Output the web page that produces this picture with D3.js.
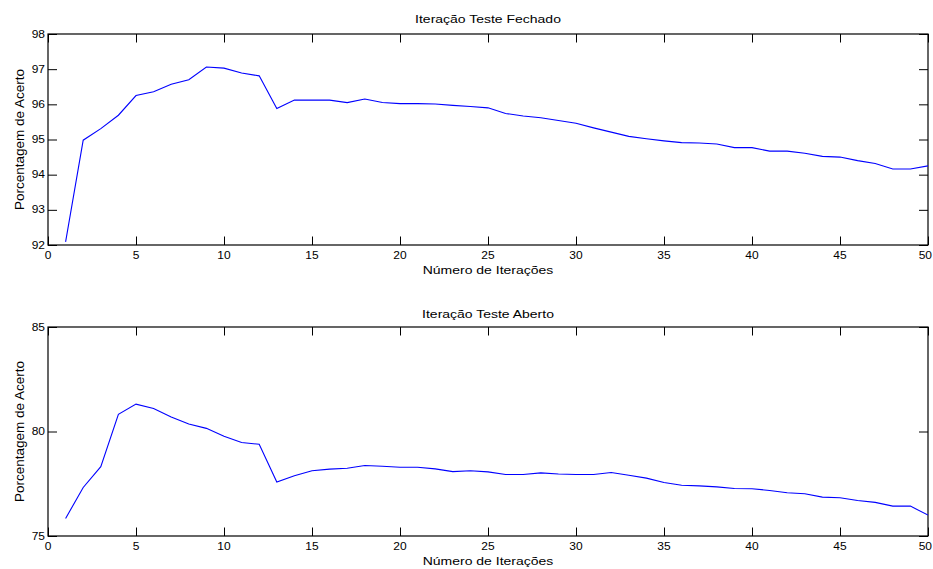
<!DOCTYPE html>
<html>
<head>
<meta charset="utf-8">
<script src="https://cdn.jsdelivr.net/npm/d3@7"></script>
<style>
  html, body { margin: 0; padding: 0; background: #fff; }
  svg { display: block; font-family: "Liberation Sans", Arial, Helvetica, sans-serif; }
</style>
</head>
<body>
<svg id="chart" width="933" height="569"></svg>
<script>
// ---- data ----
const iterations = d3.range(1, 51);
const fechadoValues = [
  92.09, 94.98, 95.31, 95.69, 96.25, 96.36, 96.57, 96.70, 97.06, 97.03,
  96.89, 96.81, 95.88, 96.12, 96.12, 96.12, 96.05, 96.15, 96.05, 96.02,
  96.02, 96.01, 95.97, 95.94, 95.90, 95.74, 95.67, 95.62, 95.54, 95.46,
  95.33, 95.21, 95.09, 95.02, 94.96, 94.91, 94.90, 94.87, 94.77, 94.77,
  94.67, 94.67, 94.61, 94.52, 94.50, 94.40, 94.32, 94.16, 94.16, 94.25
];
const abertoValues = [
  75.84, 77.32, 78.32, 80.82, 81.31, 81.10, 80.69, 80.36, 80.15, 79.77,
  79.47, 79.39, 77.58, 77.88, 78.12, 78.20, 78.24, 78.37, 78.34, 78.29,
  78.29, 78.21, 78.08, 78.12, 78.07, 77.94, 77.94, 78.02, 77.97, 77.94,
  77.94, 78.04, 77.91, 77.77, 77.56, 77.43, 77.40, 77.35, 77.27, 77.26,
  77.18, 77.07, 77.02, 76.86, 76.83, 76.70, 76.61, 76.43, 76.43, 76.00
];
const xTicks = [0, 5, 10, 15, 20, 25, 30, 35, 40, 45, 50];
const yTicksFechado = [92, 93, 94, 95, 96, 97, 98];
const yTicksAberto = [75, 80, 85];
const titles = ["Iteração Teste Fechado", "Iteração Teste Aberto"];
const xLabel = "Número de Iterações";
const yLabel = "Porcentagem de Acerto";

// ---- layout ----
const svg = d3.select("#chart");
const panels = [
  { values: fechadoValues, yDomain: [92, 98], yTicks: yTicksFechado, title: titles[0],
    top: 34, bottom: 245, titleY: 23.3, xLabelY: 274, tickLabelY: 259 },
  { values: abertoValues, yDomain: [75, 85], yTicks: yTicksAberto, title: titles[1],
    top: 327, bottom: 536, titleY: 318.3, xLabelY: 565, tickLabelY: 550 }
];
const left = 48, right = 928;
const W = 933;

function hText(g, x, y, txt, size, sy, anchor) {
  g.append("g").attr("transform", `translate(${x},${y}) scale(1,${sy})`)
    .append("text")
    .attr("x", 0).attr("y", 0)
    .attr("font-size", size)
    .attr("text-anchor", anchor)
    .attr("fill", "#000")
    .text(txt);
}

panels.forEach((p, i) => {
  const x = d3.scaleLinear().domain([0, 50]).range([left, right]);
  const y = d3.scaleLinear().domain(p.yDomain).range([p.bottom, p.top]);
  const g = svg.append("g");

  const clipId = "clip" + i;
  svg.append("clipPath").attr("id", clipId)
    .append("rect").attr("x", left).attr("y", p.top)
    .attr("width", right - left).attr("height", p.bottom - p.top);

  const tickStyle = sel => {
    sel.select(".domain").remove();
    sel.selectAll("line").attr("stroke", "#000").attr("stroke-width", 1);
    sel.selectAll("text").remove();
  };
  g.append("g").attr("transform", `translate(0,${p.bottom})`)
    .call(d3.axisBottom(x).tickValues(xTicks).tickSize(-8.5)).call(tickStyle);
  g.append("g").attr("transform", `translate(0,${p.top})`)
    .call(d3.axisTop(x).tickValues(xTicks).tickSize(-8.5)).call(tickStyle);
  g.append("g").attr("transform", `translate(${left},0)`)
    .call(d3.axisLeft(y).tickValues(p.yTicks).tickSize(-9)).call(tickStyle);
  g.append("g").attr("transform", `translate(${right},0)`)
    .call(d3.axisRight(y).tickValues(p.yTicks).tickSize(-9)).call(tickStyle);

  g.append("rect")
    .attr("x", left).attr("y", p.top)
    .attr("width", right - left).attr("height", p.bottom - p.top)
    .attr("fill", "none").attr("stroke", "#000").attr("stroke-width", 1.2);

  // tick labels (last one kept inside the page edge)
  xTicks.forEach(t => {
    const px = x(t);
    if (px + 7 > W) hText(g, W - 1, p.tickLabelY, String(t), 12, 0.88, "end");
    else hText(g, px, p.tickLabelY, String(t), 12, 0.88, "middle");
  });
  p.yTicks.forEach(t => hText(g, 45, y(t) + 3.6, String(t), 12, 0.88, "end"));

  const line = d3.line().x((d, j) => x(iterations[j])).y(d => y(d));
  g.append("path")
    .datum(p.values)
    .attr("clip-path", `url(#${clipId})`)
    .attr("fill", "none")
    .attr("stroke", "#0000ff")
    .attr("stroke-width", 1.1)
    .attr("d", line);

  const cx = (left + right) / 2;
  hText(g, cx, p.titleY, p.title, 14, 0.8, "middle");
  hText(g, cx, p.xLabelY, xLabel, 14, 0.8, "middle");
  g.append("text")
    .attr("transform", `translate(24,${(p.top + p.bottom) / 2}) rotate(-90)`)
    .attr("font-size", 13.5)
    .attr("text-anchor", "middle")
    .attr("fill", "#000")
    .text(yLabel);
});
</script>
</body>
</html>
